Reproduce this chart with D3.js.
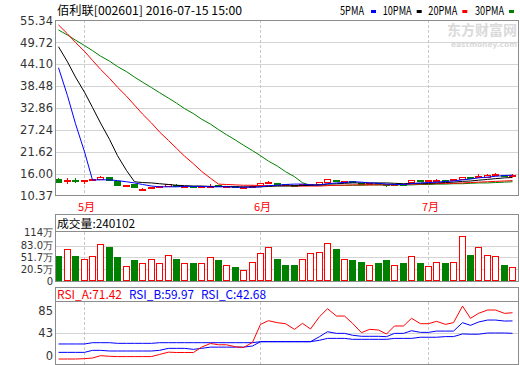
<!DOCTYPE html>
<html><head><meta charset="utf-8">
<script src="https://cdn.jsdelivr.net/npm/d3@7"></script>
<style>body{margin:0;background:#fff}svg{display:block}</style>
</head><body>
<svg id="c" width="520" height="365"></svg>
<script>
const dates = ["04-27","04-28","04-29","05-03","05-04","05-05","05-06","05-09","05-10","05-11","05-12","05-13",
"05-16","05-17","05-18","05-19","05-20","05-23","05-24","05-25","05-26","05-27","05-30","05-31",
"06-01","06-02","06-03","06-06","06-07","06-08","06-13","06-14","06-15","06-16","06-17","06-20","06-21","06-22","06-23","06-24","06-27","06-28","06-29","06-30",
"07-01","07-04","07-05","07-06","07-07","07-08","07-11","07-12","07-13","07-14","07-15"];
const openP  = [14.6,14.2,14.35,14.0,14.3,14.45,15.1,13.9,12.85,13.2,11.95,12.3,12.55,12.6,13.0,12.5,12.7,12.5,12.7,12.9,12.3,12.8,12.15,12.6,
12.9,13.6,13.5,13.2,13.0,12.9,13.0,13.1,13.6,14.1,13.8,13.9,13.5,13.2,13.4,13.3,13.0,13.3,13.7,14.2,
14.0,14.1,14.2,14.2,14.4,15.1,15.1,15.1,15.4,15.6,15.4];
const closeP = [13.8,14.3,14.25,14.3,14.4,15.1,14.35,12.95,12.95,12.3,12.0,12.5,12.65,13.2,12.9,12.75,12.5,12.6,12.8,12.8,12.7,12.6,12.45,12.8,
13.4,13.7,13.3,13.0,12.8,13.2,13.1,13.6,14.6,13.9,14.0,13.6,13.2,13.4,13.3,13.0,13.3,13.25,14.1,14.0,
14.1,14.3,14.1,14.4,15.1,14.9,15.3,15.6,15.7,15.5,15.6];
const highP  = [14.8,14.9,14.8,14.3,14.5,15.4,15.2,14.0,13.0,13.3,12.3,12.6,12.8,13.3,13.2,12.8,12.8,12.7,13.2,13.0,12.8,12.9,12.5,13.1,
13.6,14.2,13.6,13.3,13.1,13.3,13.2,13.8,14.6,14.3,14.1,14.0,13.6,13.5,13.5,13.4,13.4,13.4,14.3,14.3,
14.3,14.6,14.3,14.6,15.2,15.1,15.8,15.8,16.1,15.7,15.8];
const lowP   = [13.6,13.4,13.6,13.4,14.2,14.4,14.3,12.9,12.8,12.2,11.6,12.2,12.4,12.55,12.6,12.4,12.4,12.4,12.4,12.7,12.2,12.5,12.1,12.5,
12.8,13.3,13.2,12.9,12.7,12.8,12.9,13.0,13.5,13.8,13.7,13.5,13.1,13.1,13.2,12.5,12.9,13.2,13.9,13.9,
13.9,14.0,13.9,14.1,14.3,14.8,14.8,15.0,15.3,15.4,15.3];
const ma5  = [43.2,36.0,28.8,21.6,14.35,14.4,14.4,14.2,13.9,13.6,13.2,12.8,12.6,12.6,12.6,12.7,12.7,12.7,12.6,12.6,12.6,12.5,12.5,12.5,
12.6,12.9,13.0,13.2,13.3,13.3,13.1,13.1,13.4,13.6,13.7,13.9,13.8,13.6,13.5,13.3,13.2,13.2,13.4,13.6,
13.7,13.8,14.0,14.1,14.4,14.6,14.9,15.1,15.3,15.5,15.6];
const ma10 = [48.6,44.7,40.8,36.9,33.0,29.0,24.8,20.6,16.8,13.9,13.7,13.6,13.4,13.2,13.0,12.9,12.8,12.8,12.7,12.7,12.7,12.6,12.6,12.6,
12.6,12.7,12.8,12.8,12.9,12.9,13.0,13.1,13.3,13.4,13.5,13.6,13.6,13.6,13.6,13.6,13.5,13.4,13.5,13.5,
13.5,13.6,13.7,13.8,14.0,14.1,14.3,14.5,14.7,14.9,15.0];
const ma20 = [54.2,51.9,49.7,47.4,45.1,42.8,40.5,38.2,35.9,33.6,31.3,29.0,26.7,24.5,22.5,20.5,18.5,16.6,14.8,13.3,13.2,13.1,13.0,13.0,
12.9,12.9,12.9,12.9,12.8,12.8,12.8,12.8,12.9,13.0,13.0,13.1,13.1,13.1,13.1,13.1,13.2,13.2,13.3,13.3,
13.4,13.4,13.5,13.5,13.6,13.7,13.8,13.9,14.0,14.1,14.2];
const ma30 = [52.9,51.6,50.3,48.9,47.6,46.2,44.9,43.5,42.2,40.8,39.5,38.1,36.8,35.4,34.1,32.7,31.4,30.0,28.7,27.3,26.0,24.6,23.3,21.9,
20.6,19.2,17.9,16.5,15.2,13.65,13.0,13.0,13.0,13.0,13.0,13.0,13.0,13.1,13.1,13.1,13.1,13.1,13.1,13.2,
13.2,13.3,13.3,13.4,13.4,13.5,13.6,13.6,13.7,13.8,13.9];
const volume = [55.2,73.9,53.4,47.2,55.2,84.6,77.4,50.7,28.5,41.9,33.9,44.6,33.9,57.9,47.2,33.9,33.9,33.9,49.9,41.9,30.4,24.0,17.1,39.2,
60.6,77.4,44.6,29.3,29.3,47.2,60.6,65.9,89.1,71.3,44.6,41.9,39.2,31.2,33.9,41.9,31.2,33.9,55.2,33.9,
28.5,36.6,33.9,39.2,106.0,57.9,76.6,57.9,52.6,31.2,24.0];
const rsiA = [6.8,6.8,6.8,7.3,8.2,11.5,10.6,10.2,10.2,10.2,10.2,10.2,13.2,16.4,15.9,15.9,15.9,23.4,28.5,26.7,26.7,23.9,22.9,30.0,
55.2,60.3,57.5,56.1,48.2,56.6,48.7,65.9,77.0,66.8,66.8,56.6,43.6,48.2,47.3,41.7,52.9,52.9,63.6,56.1,
56.1,59.4,55.2,57.5,80.7,63.6,70.5,75.2,75.2,70.5,71.42];
const rsiB = [16.1,16.1,16.1,16.1,18.9,18.9,18.0,18.0,18.0,18.0,18.0,18.0,18.9,21.7,21.7,21.7,20.3,21.7,23.4,23.4,23.4,23.4,23.4,25.0,
31.0,31.0,31.0,31.0,31.0,31.0,31.0,38.0,44.9,42.6,42.6,40.0,38.5,38.5,38.5,38.0,42.6,42.6,46.3,44.0,
44.0,45.8,45.8,45.8,57.5,53.8,58.4,61.2,61.2,59.8,59.97];
const rsiC = [27.8,27.8,27.8,27.8,29.6,29.6,29.6,28.7,28.7,28.7,28.7,28.7,29.6,29.6,29.6,29.6,29.6,29.6,29.6,29.6,29.6,29.6,29.6,29.6,
31.0,31.0,31.0,31.0,31.0,31.0,31.0,33.0,35.6,35.6,35.6,34.3,34.3,34.3,34.3,34.3,35.6,35.6,35.6,37.2,
37.2,37.2,38.1,38.1,41.8,41.4,41.4,43.1,43.1,43.1,42.68];
const priceTicks = [55.34,49.72,44.10,38.48,32.86,27.24,21.62,16.00,10.37];
const volTicks = [114,83.0,51.7,20.5];
const volTickLabels = ["114万","83.0万","51.7万","20.5万"];
const rsiTicks = [85,43,0];
const monthMarks = [["05-03","5月"],["06-01","6月"],["07-01","7月"]];
const title = "佰利联[002601] 2016-07-15 15:00";
const volTitle = "成交量:240102";
const legend = [["5PMA","#0000ff"],["10PMA","#000000"],["20PMA","#ff0000"],["30PMA","#008000"]];
const rsiTitle = [["RSI_A:71.42","#ff0000"],["RSI_B:59.97","#0000ff"],["RSI_C:42.68","#0000ff"]];

const RED="#ff0000", GREEN="#008000", BLUE="#0000ff";
const FRAME="#8c8c8c", GRID="#d4d4d4";
const L=55, R=519;
const svg = d3.select("#c");
const x = d3.scaleBand().domain(dates).range([54.2,516.2]).paddingInner(0.3).paddingOuter(0.15);
const cx = d => Math.round(x(d)+x.bandwidth()/2)+0.5;
const axisFont = "'DejaVu Sans', sans-serif";

// ---------- price panel
const yP = d3.scaleLinear().domain([10.37,55.34]).range([195.5,20.5]);
const gP = svg.append("g");
gP.selectAll("line.g").data(priceTicks.slice(1,-1)).join("line")
  .attr("x1",L).attr("x2",R).attr("y1",d=>Math.round(yP(d))+0.5).attr("y2",d=>Math.round(yP(d))+0.5)
  .attr("stroke",GRID);
gP.selectAll("text").data(priceTicks).join("text")
  .attr("x",53).attr("y",d=>yP(d)).attr("dy","0.36em").attr("text-anchor","end")
  .attr("font-family",axisFont).attr("font-size",11.5).attr("fill","#333").text(d=>d.toFixed(2));

function vlines(g,y0,y1){
  g.selectAll("line.v").data(monthMarks).join("line").attr("class","v")
   .attr("x1",d=>cx(d[0])).attr("x2",d=>cx(d[0])).attr("y1",y0).attr("y2",y1)
   .attr("stroke","#c8c8c8").attr("stroke-dasharray","3,2");
}
vlines(gP,20,196);

// watermark
gP.append("text").attr("x",517).attr("y",35).attr("text-anchor","end")
  .attr("font-family","'Noto Sans CJK SC'").attr("font-weight","bold").attr("font-size",14)
  .attr("fill","#dadada").text("东方财富网");
gP.append("text").attr("x",517).attr("y",47).attr("text-anchor","end")
  .attr("font-family","'DejaVu Sans'").attr("font-weight","bold").attr("font-size",7.5)
  .attr("fill","#dadada").text("eastmoney.com");

// candles
const idx = d3.range(dates.length);
const cg = gP.append("g").attr("shape-rendering","crispEdges");
cg.selectAll("line.w").data(idx).join("line")
  .attr("x1",i=>cx(dates[i])).attr("x2",i=>cx(dates[i]))
  .attr("y1",i=>yP(highP[i])).attr("y2",i=>yP(lowP[i]))
  .attr("stroke",i=>closeP[i]>=openP[i]?RED:GREEN);
cg.selectAll("rect").data(idx).join("rect")
  .attr("x",i=>cx(dates[i])-3)
  .attr("width",6)
  .attr("y",i=>yP(Math.max(openP[i],closeP[i])))
  .attr("height",i=>Math.max(1,Math.abs(yP(openP[i])-yP(closeP[i]))))
  .attr("fill",i=>closeP[i]>=openP[i]?"#fff":GREEN)
  .attr("stroke",i=>closeP[i]>=openP[i]?RED:GREEN);

// MAs
const maList = [[ma30,GREEN],[ma20,RED],[ma10,"#000"],[ma5,BLUE]];
maList.forEach(([arr,col])=>{
  gP.append("path").datum(arr)
    .attr("d",d3.line().x((d,i)=>cx(dates[i])).y(d=>yP(d)))
    .attr("fill","none").attr("stroke",col).attr("stroke-width",1);
});
gP.append("rect").attr("x",L+0.5).attr("y",20.5).attr("width",R-L-1).attr("height",175)
  .attr("fill","none").attr("stroke",FRAME).attr("shape-rendering","crispEdges");

// title + legend
svg.append("text").attr("x",57).attr("y",15).attr("font-family","'Noto Sans CJK SC'")
  .attr("font-size",12).attr("textLength",185).attr("lengthAdjust","spacingAndGlyphs").text(title);
const legX = [340,382.7,428.3,475];
legend.forEach(([t,c],k)=>{
  svg.append("text").attr("x",legX[k]).attr("y",15).attr("font-family","'Noto Sans CJK SC'")
    .attr("font-size",12).attr("textLength",t.length===4?24:29).attr("lengthAdjust","spacingAndGlyphs").text(t);
  svg.append("rect").attr("x",legX[k]+(t.length===4?31:34)).attr("y",10).attr("width",5).attr("height",3).attr("fill",c);
});

// month labels
svg.selectAll("text.m").data(monthMarks).join("text").attr("class","m")
  .attr("x",d=>cx(d[0])+2).attr("y",210.5).attr("text-anchor","middle")
  .attr("font-family","'Noto Sans CJK SC'").attr("font-size",11).attr("fill",RED).text(d=>d[1]);

// ---------- volume panel
const yV = d3.scaleLinear().domain([-10.7,119.3]).range([280.7,232]);
const gV = svg.append("g");
gV.selectAll("line.g").data(volTicks.slice(1)).join("line")
  .attr("x1",L).attr("x2",R).attr("y1",d=>Math.round(yV(d))+0.5).attr("y2",d=>Math.round(yV(d))+0.5).attr("stroke",GRID);
vlines(gV,232,281);
gV.selectAll("text.t").data(volTicks).join("text").attr("class","t")
  .attr("x",53).attr("y",(d,i)=>i===0?Math.min(yV(d),232.5):yV(d)).attr("dy","0.36em").attr("text-anchor","end")
  .attr("font-family",axisFont).attr("font-size",10).attr("fill","#333").text((d,i)=>volTickLabels[i]);
gV.append("text").attr("x",53).attr("y",281).attr("dy","0.36em").attr("text-anchor","end")
  .attr("font-family",axisFont).attr("font-size",10).attr("fill","#333").text("0");
const vb = gV.append("g").attr("shape-rendering","crispEdges");
vb.selectAll("rect").data(idx).join("rect")
  .attr("x",i=>cx(dates[i])-3).attr("width",6)
  .attr("y",i=>yV(volume[i])).attr("height",i=>yV.range()[0]-yV(volume[i]))
  .attr("fill",i=>closeP[i]>=openP[i]?"#fff":GREEN)
  .attr("stroke",i=>closeP[i]>=openP[i]?RED:GREEN);
gV.append("rect").attr("x",L+0.5).attr("y",214.5).attr("width",R-L-1).attr("height",66.5)
  .attr("fill","none").attr("stroke",FRAME).attr("shape-rendering","crispEdges");
gV.append("line").attr("x1",L).attr("x2",R).attr("y1",231.5).attr("y2",231.5).attr("stroke",FRAME).attr("shape-rendering","crispEdges");
gV.append("text").attr("x",57).attr("y",228).attr("font-family","'Noto Sans CJK SC'").attr("font-size",11.5)
  .attr("textLength",78).attr("lengthAdjust","spacingAndGlyphs").text(volTitle);

// ---------- RSI panel
const yR = d3.scaleLinear().domain([0,86.8]).range([363.9,301.7]);
const gR = svg.append("g");
gR.selectAll("line.g").data([43]).join("line")
  .attr("x1",L).attr("x2",R).attr("y1",d=>Math.round(yR(d))+0.5).attr("y2",d=>Math.round(yR(d))+0.5).attr("stroke",GRID);
vlines(gR,302,364);
gR.selectAll("text.t").data(rsiTicks).join("text").attr("class","t")
  .attr("x",53).attr("y",d=>Math.min(Math.max(yR(d),310.5),356)).attr("dy","0.36em").attr("text-anchor","end")
  .attr("font-family",axisFont).attr("font-size",11.5).attr("fill","#333").text(d=>d);
[[rsiC,BLUE],[rsiB,BLUE],[rsiA,RED]].forEach(([arr,col])=>{
  gR.append("path").datum(arr)
    .attr("d",d3.line().x((d,i)=>cx(dates[i])).y(d=>yR(d)))
    .attr("fill","none").attr("stroke",col).attr("stroke-width",1);
});
gR.append("rect").attr("x",L+0.5).attr("y",287.5).attr("width",R-L-1).attr("height",77)
  .attr("fill","none").attr("stroke",FRAME).attr("shape-rendering","crispEdges");
gR.append("line").attr("x1",L).attr("x2",R).attr("y1",301.5).attr("y2",301.5).attr("stroke",FRAME).attr("shape-rendering","crispEdges");
const rsiX=[57,129,201];
rsiTitle.forEach(([t,c],k)=>{
  gR.append("text").attr("x",rsiX[k]).attr("y",299).attr("font-family","'Noto Sans CJK SC'").attr("font-size",12)
   .attr("fill",c).attr("textLength",65).attr("lengthAdjust","spacingAndGlyphs").text(t);
});
</script>
</body></html>
